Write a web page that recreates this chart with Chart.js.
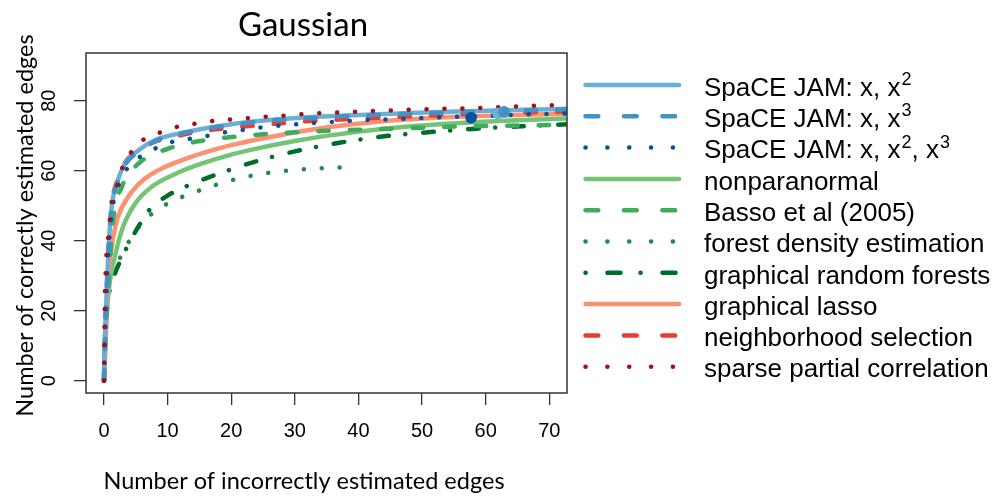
<!DOCTYPE html>
<html>
<head>
<meta charset="utf-8">
<title>Gaussian</title>
<script src="https://cdn.jsdelivr.net/npm/chart.js@4.4.0/dist/chart.umd.min.js"></script>
<style>
  html, body { margin: 0; padding: 0; background: #fff; }
  #wrap { width: 994px; height: 497px; position: relative; }
</style>
</head>
<body>
<div id="wrap"><canvas id="roc"></canvas></div>
<script>
// ===== DATA =====
const xTicks = [0, 10, 20, 30, 40, 50, 60, 70];
const yTicks = [0, 20, 40, 60, 80];

// SpaCE JAM: x, x^2
const jam2X = [0, 0.15, 0.4, 0.7, 1.2, 2, 3.3, 5.4, 8, 11.7, 15.3, 20, 25.5, 30.8, 37, 44, 51.6, 60, 66, 72.8, 75];
const jam2Y = [0, 12.5, 24, 37.3, 49.5, 56.3, 62, 65.8, 68.7, 70.6, 71.9, 73.3, 74.4, 75.1, 75.7, 76.2, 76.7, 77.1, 77.4, 77.7, 77.8];
// SpaCE JAM: x, x^3
const jam3X = [0, 0.15, 0.4, 0.7, 1.2, 2, 3.3, 5.4, 8, 11.7, 15.3, 20, 25.5, 30.8, 37, 44, 51.6, 60, 66, 72.8, 75];
const jam3Y = [0, 12, 23.5, 36.5, 49, 56, 61.6, 65.4, 68.4, 70.4, 71.7, 73.1, 74.2, 74.9, 75.5, 76, 76.5, 76.9, 77.2, 77.5, 77.6];
// SpaCE JAM: x, x^2, x^3
const jam23X = [0, 0.2, 0.5, 1, 1.5, 2.2, 3.6, 5.6, 8, 10.6, 13.4, 16.1, 18.8, 21.6, 24.4, 27.1, 29.9, 32.6, 35.5, 38.3, 41.1, 43.9, 49.5, 55, 60.6, 66.2, 71.7, 75];
const jam23Y = [0, 14, 30, 44, 51.1, 55.5, 60.5, 63.9, 66.3, 68.2, 69.1, 69.9, 70.9, 71.6, 72.3, 72.8, 73.2, 73.6, 73.9, 74.2, 74.5, 74.6, 75, 75.4, 75.7, 76.1, 76.3, 76.5];
// nonparanormal
const npnX = [0, 0.3, 0.7, 1.7, 3, 4.9, 7.5, 11.1, 15.3, 20, 25.5, 30, 35.5, 43, 53.8, 62, 72.3, 75];
const npnY = [0, 14, 25, 35.4, 44, 50.6, 55.4, 59, 62, 64.6, 66.9, 68.5, 70.1, 71.8, 73.4, 74.2, 74.9, 75.1];
// Basso et al (2005)
const bassoX = [0, 0.2, 0.7, 1.5, 2.8, 5.4, 10.1, 14.8, 20, 25, 30.2, 35, 39.9, 44.9, 50.1, 55.1, 60, 65.3, 70.5, 75];
const bassoY = [0, 12, 27.8, 46.8, 55.4, 62, 66.3, 68.4, 69.6, 70.4, 71, 71.4, 71.7, 72, 72.3, 72.6, 72.8, 72.9, 73.1, 73.2];
// forest density estimation
const fdeX = [0, 0.3, 0.9, 1.5, 2.5, 4, 5.5, 7.6, 9.8, 12.4, 15.1, 20.3, 25.5, 31.3, 36.8, 38];
const fdeY = [0, 15, 26.5, 31.6, 35, 40, 44, 47.8, 50.4, 52.6, 54.4, 57.4, 59.3, 60.4, 60.9, 61];
// graphical random forests
const grfX = [0, 0.16, 0.7, 1.5, 2.5, 4, 5.4, 7, 10.1, 14.3, 16.6, 23.4, 30.2, 37, 44.4, 51.7, 58.5, 65.8, 72.1, 75];
const grfY = [0, 14, 24, 29.5, 34, 39.5, 44, 48.5, 53, 56.6, 58.2, 62.4, 65.6, 68, 69.9, 71.1, 72, 72.7, 73.2, 73.4];
// graphical lasso
const glassoX = [0, 0.3, 0.7, 1.2, 2.2, 3.8, 6.4, 9.6, 12.7, 15.5, 20, 25.5, 30.8, 35.5, 43, 53, 62, 72, 75];
const glassoY = [0, 14, 30, 38.3, 46.8, 52.5, 57.7, 61.1, 63.3, 65, 67.3, 69.4, 71.2, 72.5, 74, 75.2, 75.8, 76.3, 76.4];
// neighborhood selection
const nsX = [0, 0.15, 0.4, 0.7, 1.2, 2, 3.3, 5.4, 8, 11.7, 15.3, 20, 25.5, 30.8, 37, 45.4, 55.9, 64, 71.6, 75];
const nsY = [0, 12.5, 25, 38, 50, 56.8, 62.3, 65.8, 68.3, 70, 71.3, 72.3, 73.2, 74, 74.6, 75.3, 76.1, 76.5, 76.9, 77];
// sparse partial correlation
const spcX = [0, 0.03, 0.08, 0.16, 0.26, 0.4, 0.7, 1.2, 2.1, 2.9, 4.2, 6.2, 8.8, 11.4, 14.2, 17, 19.7, 22.5, 25.2, 28, 30.8, 33.5, 36.4, 41.9, 47.5, 53.1, 58.7, 64.3, 69.9, 75];
const spcY = [0, 6, 15.7, 25.9, 31.1, 36.4, 41.5, 51.1, 56.1, 60.9, 65.1, 68.9, 70.9, 72.5, 73.4, 74.2, 74.6, 75, 75.4, 75.7, 76.1, 76.4, 76.6, 77, 77.4, 77.7, 77.9, 78.3, 78.7, 79];

// selected models (big dots)
const selX = [57.7, 61.9, 62.9];
const selY = [75.1, 76.4, 76.8];

// ===== STYLE =====
const DASH = [10.5, 21];
const DOT = [0.1, 17.8];
const DOTDASH = [0.1, 17.9, 10.7, 16.4];
const LEGEND_STRETCH = 1.22;   // legend patterns are a bit longer than in the plot
const LINE_W = 4.5;
const LEG = { x0: 585.5, x1: 679, textX: 704, y0: 85, step: 31.3 };

function series(label, xs, ys, color, dash, order) {
  return {
    label: label,
    data: xs.map((x, i) => ({ x: x, y: ys[i] })),
    borderColor: color,
    backgroundColor: color,
    borderWidth: LINE_W,
    borderDash: dash,
    borderCapStyle: 'round',
    borderJoinStyle: 'round',
    showLine: true,
    pointRadius: 0,
    pointHoverRadius: 0,
    cubicInterpolationMode: 'monotone',
    order: order
  };
}

const datasets = [
  series('SpaCE JAM: x, x^2', jam2X, jam2Y, '#6BAED6', [], 3),
  series('SpaCE JAM: x, x^3', jam3X, jam3Y, '#4292C6', DASH, 2),
  series('SpaCE JAM: x, x^2, x^3', jam23X, jam23Y, '#08519C', DOT, 1),
  series('nonparanormal', npnX, npnY, '#74C476', [], 7),
  series('Basso et al (2005)', bassoX, bassoY, '#41AB5D', DASH, 5),
  series('forest density estimation', fdeX, fdeY, '#238B45', DOT, 9),
  series('graphical random forests', grfX, grfY, '#006D2C', DOTDASH, 8),
  series('graphical lasso', glassoX, glassoY, '#FC9272', [], 6),
  series('neighborhood selection', nsX, nsY, '#EF3B2C', DASH, 4),
  series('sparse partial correlation', spcX, spcY, '#A50F15', DOT, 0),
  {
    label: '',
    data: selX.map((x, i) => ({ x: x, y: selY[i] })),
    showLine: false,
    pointRadius: 5.8,
    pointHoverRadius: 5.8,
    pointBackgroundColor: ['#08519C', '#6BAED6', '#4292C6'],
    pointBorderColor: ['#08519C', '#6BAED6', '#4292C6'],
    pointBorderWidth: 0,
    order: -1
  }
];

// ===== TEXT / BOX / LEGEND =====
function drawLabel(ctx, text, x, y) {
  // "^n" -> small raised digit
  const parts = text.split(/(\^\d)/).filter(p => p.length);
  let cx = x;
  parts.forEach(p => {
    if (p[0] === '^') {
      ctx.font = '18px "Liberation Sans", Arial, sans-serif';
      ctx.fillText(p.slice(1), cx + 1, y - 10.7);
      cx += ctx.measureText(p.slice(1)).width + 1;
    } else {
      ctx.font = '26px "Liberation Sans", Arial, sans-serif';
      ctx.fillText(p, cx, y);
      cx += ctx.measureText(p).width;
    }
  });
}

const decor = {
  id: 'decor',
  afterDraw(chart) {
    const ctx = chart.ctx;
    const a = chart.chartArea;
    const ys = chart.scales.y;

    ctx.save();
    // plot box
    ctx.strokeStyle = '#333';
    ctx.lineWidth = 1.5;
    ctx.strokeRect(a.left, a.top, a.right - a.left, a.bottom - a.top);

    ctx.fillStyle = '#000';
    // y tick labels (rotated like R)
    ctx.font = '20px "Liberation Sans", Arial, sans-serif';
    ctx.textAlign = 'center';
    ctx.textBaseline = 'alphabetic';
    yTicks.forEach(v => {
      ctx.save();
      ctx.translate(55, ys.getPixelForValue(v));
      ctx.rotate(-Math.PI / 2);
      ctx.fillText(String(v), 0, 0);
      ctx.restore();
    });

    // titles
    ctx.font = '33px Lato, "Open Sans", sans-serif';
    ctx.fillText('Gaussian', 303, 36);
    ctx.font = '23.5px Lato, "Open Sans", sans-serif';
    ctx.fillText('Number of incorrectly estimated edges', 304, 489);
    ctx.save();
    ctx.translate(33, 225.5);
    ctx.rotate(-Math.PI / 2);
    ctx.fillText('Number of correctly estimated edges', 0, 0);
    ctx.restore();

    // legend
    ctx.textAlign = 'left';
    let row = 0;
    chart.data.datasets.forEach(ds => {
      if (!ds.label) return;
      const y = LEG.y0 + row * LEG.step;
      ctx.save();
      ctx.strokeStyle = ds.borderColor;
      ctx.lineWidth = LINE_W;
      ctx.lineCap = 'round';
      ctx.setLineDash(ds.borderDash.map(v => v * LEGEND_STRETCH));
      ctx.beginPath();
      ctx.moveTo(LEG.x0, y);
      ctx.lineTo(LEG.x1, y);
      ctx.stroke();
      ctx.restore();
      drawLabel(ctx, ds.label, LEG.textX, y + 10.7);
      row++;
    });
    ctx.restore();
  }
};

// ===== CHART =====
new Chart(document.getElementById('roc'), {
  type: 'scatter',
  data: { datasets: datasets },
  options: {
    responsive: true,
    maintainAspectRatio: false,
    animation: false,
    layout: { padding: { left: 0, right: 427, top: 53, bottom: 0 } },
    plugins: { legend: { display: false }, tooltip: { enabled: false } },
    scales: {
      x: {
        type: 'linear',
        min: -2.83,
        max: 72.79,
        afterFit: s => { s.height = 104; },
        afterBuildTicks: s => { s.ticks = xTicks.map(v => ({ value: v })); },
        ticks: {
          color: '#000',
          font: { family: '"Liberation Sans", Arial, sans-serif', size: 20 },
          padding: 14,
          maxRotation: 0,
          autoSkip: false
        },
        grid: { drawOnChartArea: false, drawTicks: true, tickLength: 12, color: '#333', lineWidth: 1.3 },
        border: { display: false }
      },
      y: {
        type: 'linear',
        min: -3.51,
        max: 93.63,
        afterFit: s => { s.width = 86; },
        afterBuildTicks: s => { s.ticks = yTicks.map(v => ({ value: v })); },
        ticks: { display: false },
        grid: { drawOnChartArea: false, drawTicks: true, tickLength: 12, color: '#333', lineWidth: 1.3 },
        border: { display: false }
      }
    }
  },
  plugins: [decor]
});
</script>
</body>
</html>
